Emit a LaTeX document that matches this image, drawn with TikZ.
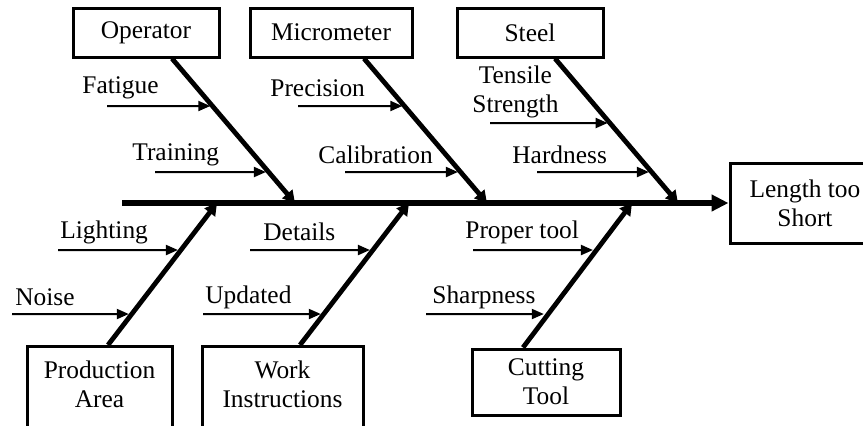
\documentclass[tikz,border=0pt]{standalone}
\usepackage{fontspec}
\setmainfont{Liberation Serif}
\usetikzlibrary{arrows.meta,calc}

\begin{document}
\begin{tikzpicture}
  [x=0.5pt, y=-0.5pt, font=\fontsize{12.7}{14.5}\selectfont,
   cause/.style={draw, line width=1.5pt, align=center, inner sep=0pt},
   bone/.style={line width=2.4pt, -{Triangle[length=6pt,width=6.5pt]}},
   sub/.style={line width=1pt, -{Triangle[length=6pt,width=5pt]}, shorten >=1.5pt}]
  \path[use as bounding box, clip] (0,0) rectangle (863,425);
  % effect and spine
  \node[cause, minimum width=75pt, minimum height=40pt] (eff) at (805,203) {Length too\\Short};
  \coordinate (tail) at (122,203);
  \draw[line width=3pt, -{Triangle[length=8.5pt,width=8pt]}] (tail) -- (eff.west);
  % causes above the spine
  \foreach \n/\x/\w/\txt in {op/146/73/Operator, mic/331/81/Micrometer, stl/530/73/Steel}{
    \node[cause, minimum width=\w pt, minimum height=24.5pt] (\n) at (\x,32.5) {\txt};}
  \foreach \n/\x in {op/295, mic/487, stl/678}{
    \coordinate (\n j) at (\x,203);
    \path (\n j) ++(-123,-146) coordinate (\n s);
    \draw[bone] (\n.south -| \n s) -- (\n j);}
  % causes below the spine
  \node[cause, minimum width=72.5pt, anchor=north, inner ysep=7pt, text depth=40pt]
    (prod) at (99.5,345) {Production\\Area};
  \node[cause, minimum width=80.5pt, anchor=north, inner ysep=7pt, text depth=40pt]
    (wrk) at (282.5,345) {Work\\Instructions};
  \node[cause, minimum width=74pt, minimum height=33pt] (cut) at (546,382) {Cutting\\Tool};
  \foreach \n/\x in {prod/217, wrk/409, cut/632}{
    \coordinate (\n j) at (\x,203);
    \path (\n j) ++(-109,142) coordinate (\n s);
    \draw[bone] (\n.north -| \n s) -- (\n j);}
  % sub-causes
  \foreach \txt/\lx/\ly/\ax/\ay/\b [count=\i] in
    {Fatigue/82/88/107/106/op, Training/132/155/155/172/op,
     Precision/270/88/298/106/mic, Calibration/318/155/345/172/mic,
     {Tensile\\Strength}/472/92/490/123/stl, Hardness/512/155/537/172/stl,
     Lighting/60/232/58/250/prod, Noise/15/297/12/314/prod,
     Details/263/232/250/250/wrk, Updated/205/297/203/314/wrk,
     Proper tool/465/232/473/250/cut, Sharpness/432/297/426/314/cut}{
    \node[anchor=west, align=center, inner sep=0pt] (l\i) at (\lx,\ly) {\txt};
    \coordinate (t\i) at (\ax,\ay);
    \coordinate (h\i) at (intersection of \b s--\b j and t\i--\ax+50,\ay);
    \draw[sub] (t\i) -- (h\i);}
\end{tikzpicture}
\end{document}
